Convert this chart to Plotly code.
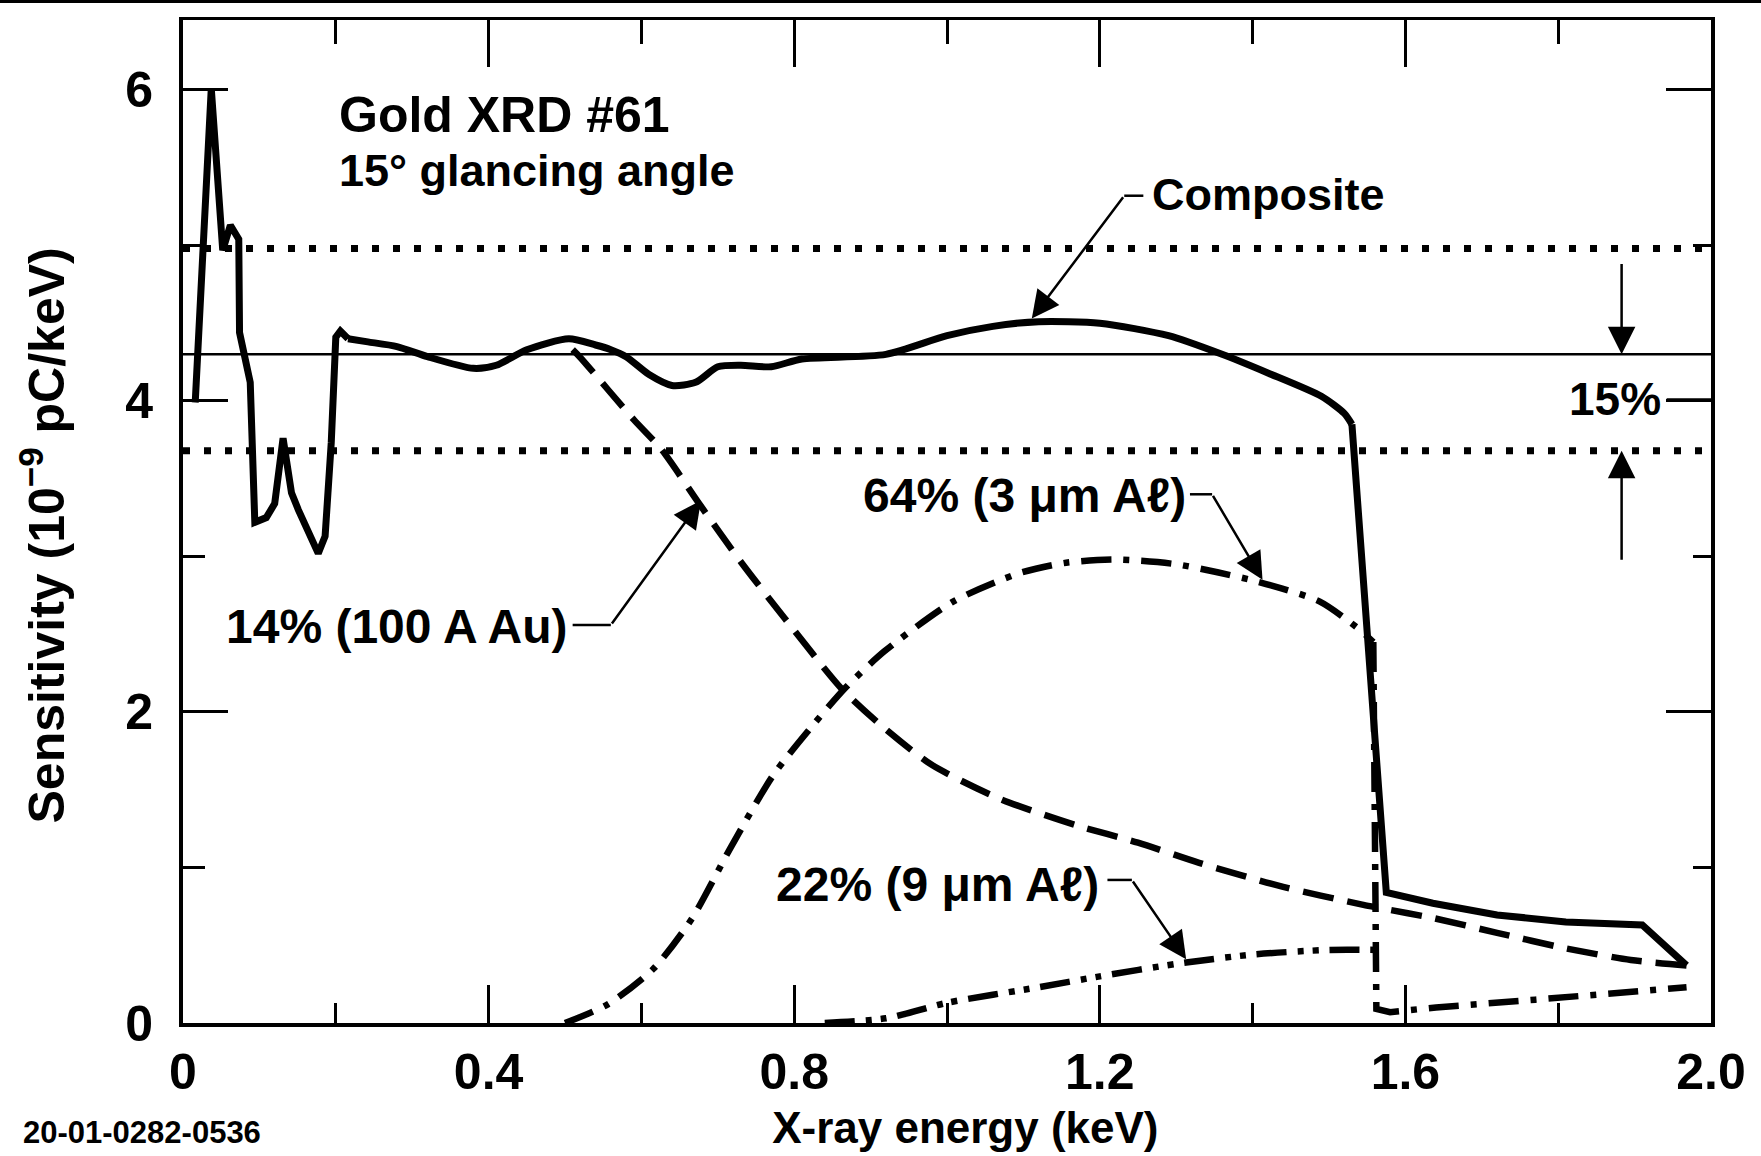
import plotly.graph_objects as go

# ---------------- data ----------------
energy_composite = [0.016, 0.037, 0.052, 0.062, 0.073, 0.074, 0.088, 0.094, 0.109, 0.120,
                    0.131, 0.142, 0.151, 0.177, 0.186, 0.194, 0.200, 0.206, 0.216, 0.242,
                    0.280, 0.320, 0.380, 0.410, 0.450, 0.505, 0.540, 0.560, 0.580, 0.610,
                    0.640, 0.671, 0.700, 0.730, 0.770, 0.810, 0.920, 1.000, 1.060, 1.120,
                    1.200, 1.290, 1.360, 1.420, 1.490, 1.520, 1.530, 1.575, 1.636, 1.720,
                    1.810, 1.910, 1.968]
sens_composite = [3.99, 6.01, 4.97, 5.13, 5.04, 4.44, 4.12, 3.22, 3.25, 3.34,
                  3.76, 3.41, 3.30, 3.02, 3.13, 3.73, 4.41, 4.45, 4.40, 4.38,
                  4.35, 4.285, 4.21, 4.23, 4.33, 4.40, 4.36, 4.33, 4.285, 4.17,
                  4.10, 4.12, 4.22, 4.23, 4.22, 4.27, 4.30, 4.42, 4.48, 4.51,
                  4.50, 4.42, 4.30, 4.18, 4.03, 3.92, 3.85, 0.84, 0.77, 0.695,
                  0.65, 0.63, 0.37]

energy_au = [0.510, 0.520, 0.590, 0.626, 0.677, 0.731, 0.788, 0.862, 0.917, 0.980,
             1.070, 1.170, 1.250, 1.330, 1.440, 1.545, 1.566, 1.636, 1.720, 1.810,
             1.895, 1.968]
sens_au = [4.33, 4.28, 3.88, 3.69, 3.33, 2.96, 2.60, 2.15, 1.90, 1.66,
           1.44, 1.27, 1.16, 1.03, 0.875, 0.76, 0.74, 0.675, 0.58, 0.48,
           0.405, 0.37]

energy_al3 = [0.500, 0.556, 0.616, 0.666, 0.717, 0.772, 0.827, 0.868, 0.918, 1.008,
              1.093, 1.156, 1.220, 1.300, 1.405, 1.488, 1.540, 1.558, 1.562, 1.580,
              1.640, 1.770, 1.968]
sens_al3 = [0.00, 0.12, 0.35, 0.67, 1.13, 1.59, 1.93, 2.16, 2.39, 2.71,
            2.89, 2.96, 2.98, 2.95, 2.84, 2.71, 2.53, 2.45, 0.09, 0.07,
            0.10, 0.15, 0.23]

energy_al9 = [0.840, 0.920, 1.000, 1.120, 1.200, 1.300, 1.400, 1.500, 1.563]
sens_al9 = [0.00, 0.03, 0.13, 0.23, 0.30, 0.38, 0.44, 0.47, 0.47]

nominal_level = 4.30
band_upper = 4.98
band_lower = 3.68
energy_span = [0.0, 2.0]

x_tick_vals = [0, 0.4, 0.8, 1.2, 1.6, 2.0]
x_tick_text = ["0", "0.4", "0.8", "1.2", "1.6", "2.0"]
y_tick_vals = [0, 2, 4, 6]
y_tick_text = ["0", "2", "4", "6"]

# ---------------- figure ----------------
FONT = "Liberation Sans, Arial, Helvetica, sans-serif"

fig = go.Figure()


def line_trace(xs, ys, width, dash=None, shape="linear", axes=("x", "y")):
    fig.add_trace(go.Scatter(x=xs, y=ys, mode="lines",
                             line=dict(color="black", width=width, dash=dash,
                                       shape=shape, smoothing=0.7),
                             xaxis=axes[0], yaxis=axes[1],
                             showlegend=False, hoverinfo="skip"))


def edge_index(xs, ys):
    # index of the largest drop (absorption edge) in a series
    drops = [ys[i] - ys[i + 1] for i in range(len(ys) - 1)]
    return drops.index(max(drops))


# reference level and +/-15% band (on overlay axes so the frame ticks are drawn)
line_trace(energy_span, [nominal_level] * 2, 2.5, axes=("x2", "y2"))
for lvl in (band_upper, band_lower):
    line_trace(energy_span, [lvl] * 2, 7, dash="7px,14px", axes=("x2", "y2"))

# 14 % (100 A Au) - dashed
line_trace(energy_au, sens_au, 6.5, dash="31px,14px", shape="spline")

# 64 % (3 um Al) - dash-dot, smooth up to the Al K edge, straight after it
k = edge_index(energy_al3, sens_al3)
line_trace(energy_al3[:k + 1], sens_al3[:k + 1], 6.5, dash="30px,12px,6px,12px", shape="spline")
line_trace(energy_al3[k:], sens_al3[k:], 6.5, dash="30px,12px,6px,12px")

# 22 % (9 um Al) - dash-dot-dot
line_trace(energy_al9, sens_al9, 6.5, dash="30px,11px,6px,9px,6px,11px", shape="spline")

# composite - solid; spiky low-energy part straight, smooth middle, straight edge
c_edge = edge_index(energy_composite, sens_composite)
c_smooth = energy_composite.index(0.216)
line_trace(energy_composite[:c_smooth + 1], sens_composite[:c_smooth + 1], 7)
line_trace(energy_composite[c_smooth:c_edge + 1], sens_composite[c_smooth:c_edge + 1], 7,
           shape="spline")
line_trace(energy_composite[c_edge:], sens_composite[c_edge:], 7)

tick_font = dict(family=FONT, size=50, color="black", weight="bold")

fig.update_layout(
    width=1761, height=1156,
    margin=dict(l=183, r=50, t=20, b=133),
    paper_bgcolor="white", plot_bgcolor="white",
    font=dict(family=FONT, color="black"),
    xaxis=dict(range=[0, 2.0], showgrid=False, zeroline=False,
               showline=True, linecolor="black", linewidth=3.5,
               ticks="inside", ticklen=38, tickwidth=3, tickcolor="black",
               tickvals=x_tick_vals, ticktext=x_tick_text, tickfont=tick_font,
               ticklabelstandoff=2,
               minor=dict(ticks="inside", ticklen=20, tickwidth=3, tickcolor="black",
                          dtick=0.2, tick0=0, showgrid=False),
               title=dict(text="&nbsp;&nbsp;&nbsp;X-ray energy (keV)",
                          font=dict(family=FONT, size=44, color="black", weight="bold"),
                          standoff=14)),
    yaxis=dict(range=[0, 6.45], showgrid=False, zeroline=False,
               showline=True, linecolor="black", linewidth=4,
               ticks="inside", ticklen=45, tickwidth=3, tickcolor="black",
               tickvals=y_tick_vals, ticktext=y_tick_text, tickfont=tick_font,
               ticklabelstandoff=16,
               minor=dict(ticks="inside", ticklen=22, tickwidth=3, tickcolor="black",
                          dtick=1, tick0=0, showgrid=False),
               title=dict(text="Sensitivity (10<sup>−9</sup> pC/keV)&nbsp;&nbsp;",
                          font=dict(family=FONT, size=50, color="black", weight="bold"),
                          standoff=46)),
    xaxis2=dict(range=[0, 2.0], overlaying="x", side="top", anchor="y2",
                showgrid=False, zeroline=False, showticklabels=False,
                showline=True, linecolor="black", linewidth=3,
                ticks="inside", ticklen=47, tickwidth=3, tickcolor="black",
                tickvals=x_tick_vals,
                minor=dict(ticks="inside", ticklen=24, tickwidth=3, tickcolor="black",
                           dtick=0.2, tick0=0, showgrid=False)),
    yaxis2=dict(range=[0, 6.45], overlaying="y", side="right", anchor="x2",
                showgrid=False, zeroline=False, showticklabels=False,
                showline=True, linecolor="black", linewidth=3.5,
                ticks="inside", ticklen=45, tickwidth=3, tickcolor="black",
                tickvals=y_tick_vals,
                minor=dict(ticks="inside", ticklen=18, tickwidth=3, tickcolor="black",
                           dtick=1, tick0=0, showgrid=False)),
)


def label(text, x, y, size, anchor="left"):
    fig.add_annotation(text=text, x=x, y=y, xref="x", yref="y", showarrow=False,
                       xanchor=anchor, yanchor="middle",
                       font=dict(family=FONT, size=size, color="black", weight="bold"))


def leader(x0, y0, x1, y1):
    fig.add_shape(type="line", x0=x0, y0=y0, x1=x1, y1=y1, xref="x", yref="y",
                  line=dict(color="black", width=2.5))


def arrow(x_from, y_from, x_to, y_to):
    fig.add_annotation(x=x_to, y=y_to, ax=x_from, ay=y_from, xref="x", yref="y",
                       axref="x", ayref="y", text="", showarrow=True,
                       arrowhead=2, arrowsize=2.2, arrowwidth=2.5, arrowcolor="black",
                       standoff=0)


label("Gold XRD #61", 0.202, 5.84, 50)
label("15° glancing angle", 0.202, 5.48, 45)
label("Composite", 1.266, 5.33, 45)
label("14% (100 A Au)", 0.505, 2.55, 48, anchor="right")
label("64% (3 μm Aℓ)", 0.887, 3.39, 48)
label("22% (9 μm Aℓ)", 0.773, 0.89, 48)
label("15%", 1.937, 4.01, 46, anchor="right")

# leader lines with arrows
leader(1.232, 5.32, 1.257, 5.32)
arrow(1.232, 5.32, 1.111, 4.53)
leader(0.510, 2.56, 0.560, 2.56)
arrow(0.560, 2.56, 0.678, 3.36)
leader(1.318, 3.40, 1.347, 3.40)
arrow(1.347, 3.40, 1.413, 2.85)
leader(1.210, 0.92, 1.242, 0.92)
arrow(1.242, 0.92, 1.313, 0.41)
leader(1.942, 4.01, 2.0, 4.01)
arrow(1.883, 4.89, 1.883, nominal_level)
arrow(1.883, 2.97, 1.883, band_lower)

# figure id at bottom-left (box kept inside the page)
fig.add_annotation(text="20-01-0282-0536", x=-0.106, y=-0.129, xref="paper", yref="paper",
                   showarrow=False, xanchor="left", yanchor="bottom",
                   font=dict(family=FONT, size=31, color="black", weight="bold"))

# page edge rule at very top (as in scan)
fig.add_shape(type="line", xref="paper", yref="paper", x0=-0.12, x1=1.033,
              y0=1.0185, y1=1.0185, line=dict(color="black", width=3))

fig.write_html("out.html")
